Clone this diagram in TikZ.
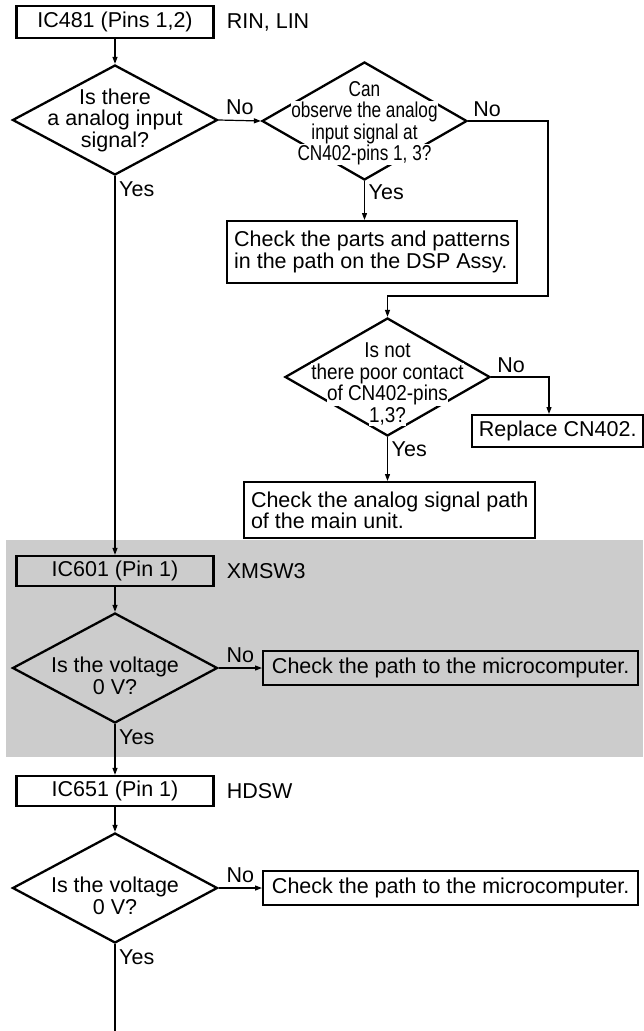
\documentclass[tikz,border=0pt]{standalone}
\usepackage{fontspec}
\setmainfont{Liberation Sans}
\newfontfamily\narrowfont{Liberation Sans}[FakeStretch=0.8]
\newfontfamily\semifont{Liberation Sans}[FakeStretch=0.88]
\usetikzlibrary{arrows.meta,calc,positioning,shapes.geometric}
\definecolor{PanelGray}{HTML}{CCCCCC}
\newcommand{\mainsize}{\fontsize{21.5}{21.5}\selectfont}
\newcommand{\wl}[1]{{\setlength{\fboxsep}{0.5pt}\colorbox{white}{#1}}}

\begin{document}
\begin{tikzpicture}[
    x=1pt,y=-1pt,
    box/.style={draw,line width=2.3pt,minimum width=197pt,minimum height=30pt,
      inner sep=5pt,font=\mainsize},
    textbox/.style={box,align=left,inner sep=4pt,anchor=north west},
    dia/.style={draw,diamond,line width=2.3pt,minimum width=205pt,
      minimum height=110pt,inner sep=0pt},
    dtext/.style={align=center,inner sep=0pt,font=\mainsize},
    ntext/.style={align=center,inner sep=0pt,font=\narrowfont\mainsize},
    lbl/.style={inner sep=1pt,font=\mainsize},
    conn/.style={line width=1.2pt,-{Triangle[length=7pt,width=5pt]}}
  ]
    \useasboundingbox (0,0) rectangle (643,1031);
    \fill[PanelGray] (6,540) rectangle (643,757);

    % analog input
    \node[box,minimum height=32pt] (ic481) at (115,22) {IC481 (Pins 1,2)};
    \node[lbl,right=11pt of ic481] (rin) {RIN, LIN};
    \node[dia] (d1) at (115,120) {};
    \node[dtext] (d1t) at (d1) {Is there\\a analog input\\signal?};
    \node[dia,minimum height=118pt] (d2) at (364.5,121) {};
    \node[ntext,yshift=-2pt] (d2t) at (d2)
      {\wl{Can}\\\wl{observe the analog}\\\wl{input signal at}\\\wl{CN402-pins 1, 3?}};
    \node[textbox,minimum width=290pt,minimum height=62pt] (parts) at (226,220)
      {Check the parts and patterns\\in the path on the DSP Assy.};
    \coordinate (c2) at (548,296);
    \node[dia,minimum height=118pt] (d3) at (387.5,377) {};
    \node[ntext,font=\semifont\mainsize,yshift=-7pt] (d3t) at (d3)
      {\wl{Is not}\\\wl{there poor contact}\\\wl{of CN402-pins}\\\wl{1,3?}};
    \coordinate (c3) at (549,377);
    \node[box,minimum width=171pt,minimum height=32pt,anchor=north west] (rep) at (471,414) {Replace CN402.};
    \node[textbox,minimum width=291pt,minimum height=56pt] (mainpath) at (243,481)
      {Check the analog signal path\\of the main unit.};

    % XMSW3
    \node[box,minimum height=29pt] (ic601) at (115,571) {IC601 (Pin 1)};
    \node[lbl,right=11pt of ic601] (xmsw) {XMSW3};
    \node[dia] (d4) at (115,668) {};
    \node[dtext,yshift=-8pt] (d4t) at (d4) {Is the voltage\\0 V?};
    \node[box,minimum width=375pt,minimum height=34pt,anchor=west] (micro1) at (262,668)
      {Check the path to the microcomputer.};

    % HDSW
    \node[box,minimum height=29pt] (ic651) at (115,791) {IC651 (Pin 1)};
    \node[lbl,right=11pt of ic651] (hdsw) {HDSW};
    \node[dia] (d5) at (115,888) {};
    \node[dtext,yshift=-8pt] (d5t) at (d5) {Is the voltage\\0 V?};
    \node[box,minimum width=375pt,minimum height=34pt,anchor=west] (micro2) at (262,888)
      {Check the path to the microcomputer.};
    \coordinate (tail) at (115,1031);

    \draw[conn] (ic481.south) -- (d1.north);
    \draw[conn] (d1.east) -- node[lbl,above=4pt] (no1) {No} (d2.west);
    \draw[conn] (d1.south) -- (ic601.north);
    \node[lbl,anchor=north west] (yes1) at ([xshift=3pt,yshift=-4pt]d1.south) {Yes};
    \draw[conn] (d2.east) -| (c2) -| (d3.north);
    \node[lbl,anchor=south west] (no2) at ([xshift=4pt,yshift=3pt]d2.east) {No};
    \draw[conn] (d2.south) -- (d2.south |- parts.north);
    \node[lbl,anchor=north west] (yes2) at ([xshift=3pt,yshift=-2pt]d2.south) {Yes};
    \draw[conn] (d3.east) -- (c3) -- (c3 |- rep.north);
    \node[lbl,anchor=south west] (no3) at ([xshift=5pt,yshift=3pt]d3.east) {No};
    \draw[conn] (d3.south) -- (d3.south |- mainpath.north);
    \node[lbl,anchor=north west] (yes3) at ([xshift=3pt,yshift=-3pt]d3.south) {Yes};

    \draw[conn] (ic601.south) -- (d4.north);
    \draw[conn] (d4.east) -- node[lbl,above=4pt] (no4) {No} (micro1.west);
    \draw[conn] (d4.south) -- (ic651.north);
    \node[lbl,anchor=north west] (yes4) at ([xshift=3pt,yshift=-4pt]d4.south) {Yes};

    \draw[conn] (ic651.south) -- (d5.north);
    \draw[conn] (d5.east) -- node[lbl,above=4pt] (no5) {No} (micro2.west);
    \draw[line width=1.2pt] (d5.south) -- (tail);
    \node[lbl,anchor=north west] (yes5) at ([xshift=3pt,yshift=-4pt]d5.south) {Yes};
  \end{tikzpicture}
\end{document}
